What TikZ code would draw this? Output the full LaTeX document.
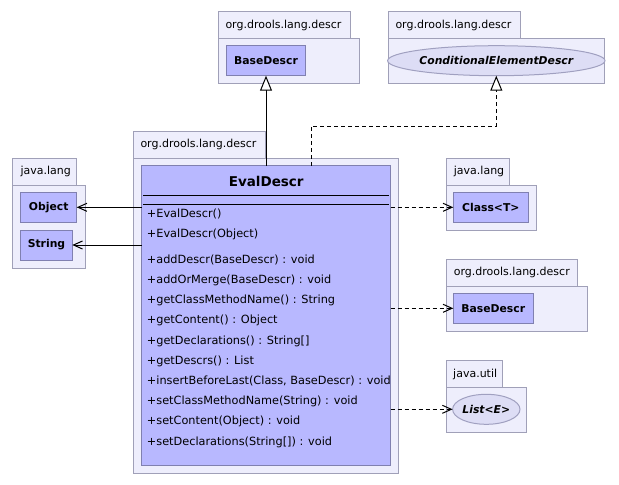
\documentclass[tikz,border=0pt]{standalone}
\usepackage{fontspec}
\setmainfont{DejaVu Sans}
\usetikzlibrary{arrows.meta,shapes.geometric}
\definecolor{pkgfill}{RGB}{238,238,252}
\definecolor{pkgline}{RGB}{160,160,184}
\definecolor{clsfill}{RGB}{184,184,255}
\definecolor{clsline}{RGB}{128,128,176}
\definecolor{iffill}{RGB}{221,221,245}
\definecolor{ifline}{RGB}{160,160,192}
\tikzset{
  box/.style={rectangle, anchor=north west, inner sep=0pt, outer sep=0pt, line width=1pt},
  pkg/.style={box, draw=pkgline, fill=pkgfill},
  cls/.style={box, draw=clsline, fill=clsfill, font=\fontsize{10.8}{12}\selectfont\bfseries},
  iface/.style={ellipse, inner sep=0pt, outer sep=0pt, line width=1pt, draw=ifline, fill=iffill, font=\fontsize{10.8}{12}\selectfont\bfseries\itshape},
  pkglabel/.style={anchor=west, inner sep=0pt, font=\fontsize{11}{13}\selectfont},
  meth/.style={anchor=base west, inner sep=0pt, font=\fontsize{11.3}{13}\selectfont},
  gen/.style={line width=1pt, -{Triangle[open, length=15pt, width=12pt, fill=white, line width=1pt]}},
  dep/.style={line width=1pt, -{Straight Barb[length=9pt, width=8pt, line width=1pt]}},
  ddep/.style={dep, dash pattern=on 4pt off 3pt},
  dgen/.style={gen, dash pattern=on 4pt off 3pt},
}
\begin{document}
\begin{tikzpicture}[x=1pt,y=-1pt]
\useasboundingbox (0,0) rectangle (619,485);

% package: org.drools.lang.descr (top left)
\node[pkg, minimum width=131.7, minimum height=26.6] (p1tab) at (218.3,11.7) {};
\node[pkg, minimum width=141, minimum height=45] (p1) at (218.3,38.3) {};
\node[pkglabel] (p1lab) at ([xshift=7pt]p1tab.west) {org.drools.lang.descr};
\node[cls, minimum width=79.4, minimum height=30.7] (base1) at (226.3,45) {BaseDescr};

% package: org.drools.lang.descr (top right)
\node[pkg, minimum width=132.4, minimum height=26.6] (p2tab) at (388.3,11.7) {};
\node[pkg, minimum width=215.7, minimum height=45] (p2) at (388.3,38.3) {};
\node[pkglabel] (p2lab) at ([xshift=7pt]p2tab.west) {org.drools.lang.descr};
\node[iface, minimum width=200, minimum height=30] (cond) at (496.3,60.7) {ConditionalElementDescr};

% package: org.drools.lang.descr (EvalDescr)
\node[pkg, minimum width=131.7, minimum height=27.3] (p3tab) at (133.3,131) {};
\node[pkg, minimum width=265, minimum height=315] (p3) at (133.3,158.3) {};
\node[pkglabel] (p3lab) at ([xshift=7pt]p3tab.west) {org.drools.lang.descr};
\node[box, draw=clsline, fill=clsfill, minimum width=249, minimum height=299.3] (eval) at (141.7,165.7) {};
\node[font=\fontsize{13.5}{15}\selectfont\bfseries, inner sep=0pt] (evaltitle) at (266.2,181.7) {EvalDescr};
\draw[line width=1pt] (143.3,195) -- (388.9,195);
\draw[line width=1pt] (143.3,204) -- (388.9,204);
\node[meth] (m1) at (146.7,217.2) {+EvalDescr()};
\node[meth] (m2) at (146.7,237.2) {+EvalDescr(Object)};
\node[meth] (m3) at (146.7,263.2) {+addDescr(BaseDescr) : void};
\node[meth] (m4) at (146.7,283.4) {+addOrMerge(BaseDescr) : void};
\node[meth] (m5) at (146.7,303.6) {+getClassMethodName() : String};
\node[meth] (m6) at (146.7,323.8) {+getContent() : Object};
\node[meth] (m7) at (146.7,344.0) {+getDeclarations() : String[]};
\node[meth] (m8) at (146.7,364.2) {+getDescrs() : List};
\node[meth] (m9) at (146.7,384.4) {+insertBeforeLast(Class, BaseDescr) : void};
\node[meth] (m10) at (146.7,404.6) {+setClassMethodName(String) : void};
\node[meth] (m11) at (146.7,424.8) {+setContent(Object) : void};
\node[meth] (m12) at (146.7,445.0) {+setDeclarations(String[]) : void};

% package: java.lang (left)
\node[pkg, minimum width=64.4, minimum height=26.7] (p4tab) at (12.3,158.3) {};
\node[pkg, minimum width=73.4, minimum height=83.3] (p4) at (12.3,185) {};
\node[pkglabel] (p4lab) at ([xshift=8pt]p4tab.west) {java.lang};
\node[cls, minimum width=56, minimum height=30] (obj) at (20.7,192.3) {Object};
\node[cls, minimum width=51.6, minimum height=30] (str) at (20.7,230) {String};

% package: java.lang (right)
\node[pkg, minimum width=62.6, minimum height=26.7] (p5tab) at (446.7,158.3) {};
\node[pkg, minimum width=90, minimum height=45] (p5) at (446.7,185) {};
\node[pkglabel] (p5lab) at ([xshift=7pt]p5tab.west) {java.lang};
\node[cls, minimum width=75, minimum height=30] (clsT) at (453.3,192.3) {Class<T>};

% package: org.drools.lang.descr (right)
\node[pkg, minimum width=130.6, minimum height=26.7] (p6tab) at (446.7,259.3) {};
\node[pkg, minimum width=140.6, minimum height=45] (p6) at (446.7,286) {};
\node[pkglabel] (p6lab) at ([xshift=7pt]p6tab.west) {org.drools.lang.descr};
\node[cls, minimum width=80, minimum height=30] (base2) at (453.3,293.3) {BaseDescr};

% package: java.util
\node[pkg, minimum width=56.3, minimum height=26.6] (p7tab) at (446,360.7) {};
\node[pkg, minimum width=80.7, minimum height=45] (p7) at (446,387.3) {};
\node[pkglabel] (p7lab) at ([xshift=7pt]p7tab.west) {java.util};
\node[iface, minimum width=66, minimum height=30] (list) at (486.3,409.3) {List<E>};

% connectors
\draw[gen] (base1.south |- eval.north) -- (base1.south);
\coordinate (bend) at (311,126);
\draw[dgen] (bend |- eval.north) -- (bend) -| (cond.south);
\draw[dep] (eval.west |- obj.east) -- (obj.east);
\draw[dep] (eval.west |- str.east) -- (str.east);
\draw[ddep] (eval.east |- clsT.west) -- (clsT.west);
\draw[ddep] (eval.east |- base2.west) -- (base2.west);
\draw[ddep] (eval.east |- list.west) -- (list.west);
\end{tikzpicture}
\end{document}
